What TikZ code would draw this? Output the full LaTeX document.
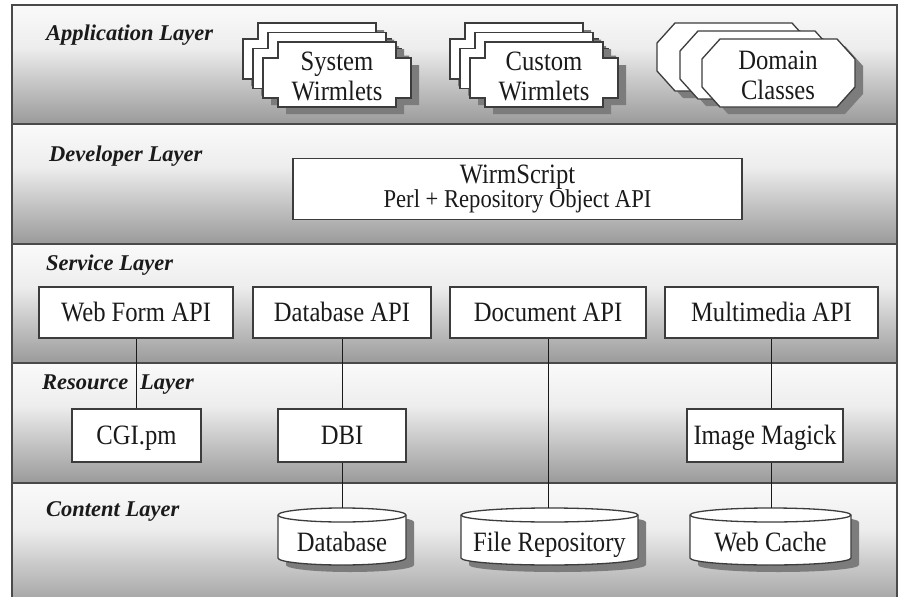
\documentclass[tikz,border=0pt]{standalone}
\usepackage{fontspec}
\setmainfont{Liberation Serif}[FakeStretch=0.88]
\newfontfamily\labfam{Liberation Serif}
\usetikzlibrary{calc}
\definecolor{ltop}{HTML}{FAFAFA}
\definecolor{lmidA}{HTML}{EDEDED}
\definecolor{lmidB}{HTML}{CDCDCD}
\definecolor{lbot}{HTML}{9A9A9A}
\definecolor{edgec}{HTML}{4A4A4A}
\definecolor{shadc}{HTML}{7C7C7C}
\definecolor{ink}{HTML}{1A1A1A}
\pgfdeclareverticalshading{layershade}{100bp}{color(0bp)=(lbot); color(25bp)=(lbot); color(45bp)=(lmidB); color(57bp)=(lmidA); color(75bp)=(ltop); color(100bp)=(ltop)}
\newcommand{\WTabPath}{-- ++(118,0) -- ++(0,16) -- ++(15,0) -- ++(0,40) -- ++(-15,0) -- ++(0,9) -- ++(-118,0) -- ++(0,-9) -- ++(-15,0) -- ++(0,-40) -- ++(15,0) -- cycle}
\newcommand{\WTab}[2]{%
  \fill[shd] (#1+8,#2+7) \WTabPath;
  \draw[shp] (#1,#2) \WTabPath;}
\newcommand{\OctPath}{-- ++(117,0) -- ++(18,20) -- ++(0,28) -- ++(-18,20) -- ++(-117,0) -- ++(-18,-20) -- ++(0,-28) -- cycle}
\newcommand{\WOct}[2]{%
  \fill[shd] (#1+18+8,#2+7) \OctPath;
  \draw[shp] (#1+18,#2) \OctPath;}
\newcommand{\WCyl}[5]{% L, R, T, B, rx
  \fill[shd] (#1+8,#3+7) -- (#1+8,#4+7) arc[start angle=180,end angle=360,x radius=#5pt,y radius=7pt] -- (#2+8,#3+7) arc[start angle=0,end angle=180,x radius=#5pt,y radius=7pt] -- cycle;
  \draw[shp] (#1,#3) -- (#1,#4) arc[start angle=180,end angle=360,x radius=#5pt,y radius=7pt] -- (#2,#3) arc[start angle=0,end angle=180,x radius=#5pt,y radius=7pt] -- cycle;
  \draw[shp,fill=none] (#1,#3) arc[start angle=180,end angle=360,x radius=#5pt,y radius=7pt];}
\begin{document}
\begin{tikzpicture}[x=1pt,y=-1pt,
  layer/.style={shading=layershade, draw=edgec, line width=1.6pt},
  laylab/.style={anchor=west, font=\labfam\fontsize{22.5}{24}\selectfont\bfseries\itshape, text=ink, inner sep=0pt},
  box/.style={draw=ink!85, line width=1.3pt, fill=white, inner sep=0pt, font=\fontsize{28}{30}\selectfont, text=ink, text height=18.5pt, text depth=0pt},
  shp/.style={draw=ink!85, line width=1.3pt, fill=white},
  shd/.style={fill=shadc},
  lbl/.style={font=\fontsize{28}{30}\selectfont, text=ink, align=center, inner sep=0pt},
  cyl/.style={font=\fontsize{28}{30}\selectfont, text=ink, inner sep=0pt, anchor=base},
  conn/.style={draw=ink, line width=1pt}]

\useasboundingbox (0,0) rectangle (903,597);
\fill[white] (0,0) rectangle (903,597);

% layers
\path[layer] (12,5) rectangle (897,124);
\path[layer] (12,124) rectangle (897,244);
\path[layer] (12,244) rectangle (897,363);
\path[layer] (12,363) rectangle (897,483);
\path[layer] (12,483) rectangle (897,612);

% layer labels
\node[laylab] (labapp) at (46,35) {Application Layer};
\node[laylab] (labdev) at (49,156) {Developer Layer};
\node[laylab] (labsrv) at (46,265) {Service Layer};
\node[laylab] (labres) at (42,385) {Resource\hspace{6pt} Layer};
\node[laylab] (labcon) at (46,511) {Content Layer};

% application layer shapes
\WTab{258}{23}
\WTab{268}{32.5}
\WTab{278}{42}
\node[lbl] (sysw) at (337,76) {System\\Wirmlets};
\WTab{465}{23}
\WTab{475}{32.5}
\WTab{485}{42}
\node[lbl] (cusw) at (544,76) {Custom\\Wirmlets};
\WOct{657}{23}
\WOct{680}{31}
\WOct{702}{39}
\node[lbl] (domc) at (778,75) {Domain\\Classes};

% developer layer
\node[draw=ink!85, line width=1.3pt, fill=white, inner sep=0pt, text=ink, minimum width=449, minimum height=61, align=center] (wirm) at (517.5,189)
  {\fontsize{28}{27}\selectfont WirmScript\\\fontsize{25.7}{27}\selectfont Perl + Repository Object API};

% service layer
\node[box, minimum width=194, minimum height=51] (webform) at (136,312.5) {Web Form API};
\node[box, minimum width=178, minimum height=51] (dbapi) at (342,312.5) {Database API};
\node[box, minimum width=196, minimum height=51] (docapi) at (548,312.5) {Document API};
\node[box, minimum width=213, minimum height=51] (mmapi) at (771.5,312.5) {Multimedia API};

% resource layer
\node[box, minimum width=129, minimum height=53] (cgi) at (136.5,435.5) {CGI.pm};
\node[box, minimum width=128, minimum height=53] (dbi) at (342,435.5) {DBI};
\node[box, minimum width=156, minimum height=53] (imagick) at (765,435.5) {Image Magick};

% content layer
\WCyl{278}{406}{515}{558}{64}
\WCyl{461}{638}{515}{558}{88.5}
\WCyl{690}{851}{515}{558}{80.5}
\node[cyl] (database) at (342,551) {Database};
\node[cyl] (filerepo) at (549.5,551) {File Repository};
\node[cyl] (webcache) at (770.5,551) {Web Cache};
\coordinate (dbtop) at (342,508);
\coordinate (frtop) at (549.5,508);
\coordinate (wctop) at (770.5,508);

% connectors
\draw[conn] (webform.south) -- (webform.south |- cgi.north);
\draw[conn] (dbapi.south) -- (dbi.north);
\draw[conn] (dbi.south) -- (dbtop);
\draw[conn] (docapi.south) -- (docapi.south |- frtop);
\draw[conn] (mmapi.south) -- (mmapi.south |- imagick.north);
\draw[conn] (imagick.south -| mmapi.south) -- (mmapi.south |- wctop);
\end{tikzpicture}
\end{document}
